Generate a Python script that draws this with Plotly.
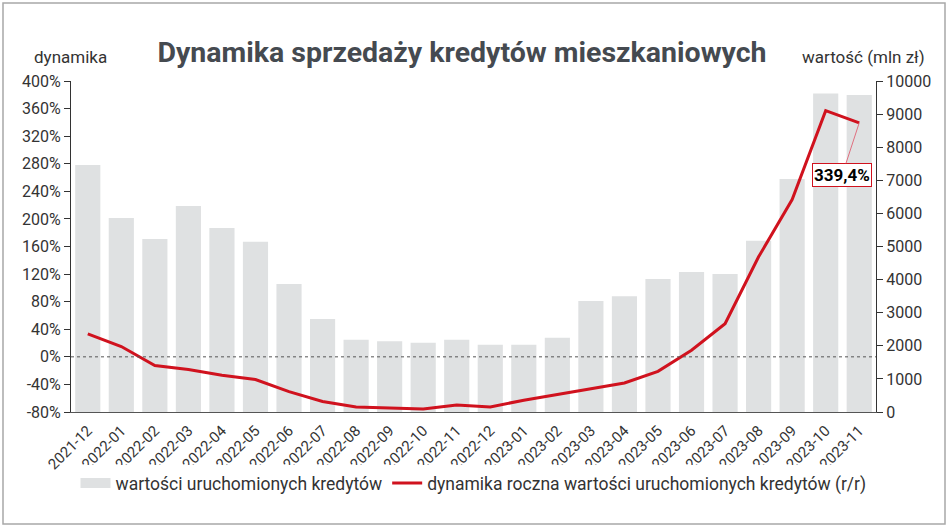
import plotly.graph_objects as go

categories = ["2021-12", "2022-01", "2022-02", "2022-03", "2022-04", "2022-05", "2022-06",
              "2022-07", "2022-08", "2022-09", "2022-10", "2022-11", "2022-12", "2023-01",
              "2023-02", "2023-03", "2023-04", "2023-05", "2023-06", "2023-07", "2023-08",
              "2023-09", "2023-10", "2023-11"]
wartosc = [7460, 5860, 5230, 6220, 5560, 5140, 3870, 2810, 2180, 2140, 2090, 2180,
           2030, 2030, 2240, 3350, 3500, 4020, 4230, 4170, 5170, 7040, 9620, 9580]
dynamika = [33.4, 15.0, -12.6, -18.5, -26.6, -33.0, -50.5, -64.8, -72.6, -74.0, -75.5,
            -69.7, -72.6, -63.0, -54.7, -45.4, -38.0, -21.0, 9.5, 48.0, 145.0, 228.0,
            357.0, 339.4]
left_ticks = list(range(-80, 401, 40))
right_ticks = list(range(0, 10001, 1000))

FONT = "Roboto"
TXT = "#333333"
BAR = "#dfe1e2"
RED = "#d0121e"

fig = go.Figure()
fig.add_trace(go.Bar(
    x=categories, y=wartosc, name="wartości uruchomionych kredytów",
    marker=dict(color=BAR, line=dict(width=0)), yaxis="y", showlegend=False,
))
# legend swatch for the bars (wide rectangle like the reference)
fig.add_trace(go.Scatter(
    x=[None], y=[None], name="wartości uruchomionych kredytów", mode="lines",
    line=dict(color=BAR, width=13), yaxis="y",
))
fig.add_trace(go.Scatter(
    x=categories, y=dynamika, name="dynamika roczna wartości uruchomionych kredytów (r/r)",
    mode="lines", line=dict(color=RED, width=3), yaxis="y2",
))

fig.update_layout(
    width=948, height=529,
    margin=dict(l=71, r=72, t=81, b=117),
    paper_bgcolor="white", plot_bgcolor="white",
    font=dict(family=FONT, size=15, color=TXT),
    bargap=0.25,
    showlegend=True,
    legend=dict(orientation="h", x=0.5, xanchor="center", y=-0.215, yanchor="middle",
                font=dict(size=17.5, color=TXT), itemwidth=30, traceorder="normal"),
    title=dict(text="<b>Dynamika sprzedaży kredytów mieszkaniowych</b>",
               x=462 / 948, xanchor="center", y=1 - 52 / 529, yanchor="middle",
               xref="container", yref="container",
               font=dict(family=FONT, size=28.5, color="#454a50")),
    xaxis=dict(type="category", tickangle=-45, showline=True, linecolor="#555555",
               linewidth=1, ticks="outside", ticklen=3, tickcolor="rgba(0,0,0,0)",
               showgrid=False, tickfont=dict(size=15, color=TXT)),
    yaxis=dict(side="right", range=[0, 10000], tickvals=right_ticks,
               ticktext=[str(v) for v in right_ticks],
               showline=True, linecolor="#333333", linewidth=1, ticks="outside",
               ticklen=6, tickcolor="#333333", showgrid=False, zeroline=False,
               tickfont=dict(size=16, color=TXT)),
    yaxis2=dict(side="left", overlaying="y", range=[-80, 400], tickvals=left_ticks,
                ticktext=[f"{v}%" for v in left_ticks],
                showline=True, linecolor="#333333", linewidth=1, ticks="outside",
                ticklen=6, tickcolor="#333333", showgrid=False, zeroline=False,
                tickfont=dict(size=16, color=TXT)),
)

# zero line (dashed)
fig.add_shape(type="line", xref="paper", yref="y2", x0=0, x1=1, y0=0, y1=0,
              line=dict(color="#555555", width=1, dash="dot"), layer="above")

# outer frame
fig.add_shape(type="rect", xref="paper", yref="paper",
              x0=-(71 - 3) / 805, x1=1 + (945 - 876) / 805,
              y0=-(524 - 412) / 331, y1=1 + (81 - 3) / 331,
              line=dict(color="#a8a8a8", width=1.5), layer="below")

# axis titles
fig.add_annotation(text="dynamika", xref="paper", yref="paper",
                   x=-1 / 805, y=1 + (81 - 57) / 331, xanchor="center", yanchor="middle",
                   showarrow=False, font=dict(size=17, color=TXT))
fig.add_annotation(text="wartość (mln zł)", xref="paper", yref="paper",
                   x=1 + (927 - 876) / 805, y=1 + (81 - 57) / 331, xanchor="right",
                   yanchor="middle", showarrow=False, font=dict(size=17, color=TXT))

# last value label
fig.add_annotation(text=f"<b>{dynamika[-1]:.1f}%</b>".replace(".", ","),
                   x=categories[-1], y=dynamika[-1], xref="x", yref="y2",
                   ax=-17, ay=52, showarrow=True, arrowhead=0, arrowwidth=1,
                   arrowcolor="#e07080", bgcolor="white", bordercolor=RED,
                   borderwidth=1, borderpad=1,
                   font=dict(size=17, color="black", family=FONT))

fig.write_html("out.html", config={"displayModeBar": False})

# remove default page margin so the figure sits at the window's top-left corner
with open("out.html", "r", encoding="utf-8") as f:
    html = f.read()
html = html.replace("<head>", "<head><style>html,body{margin:0;padding:0;}</style>", 1)
with open("out.html", "w", encoding="utf-8") as f:
    f.write(html)
